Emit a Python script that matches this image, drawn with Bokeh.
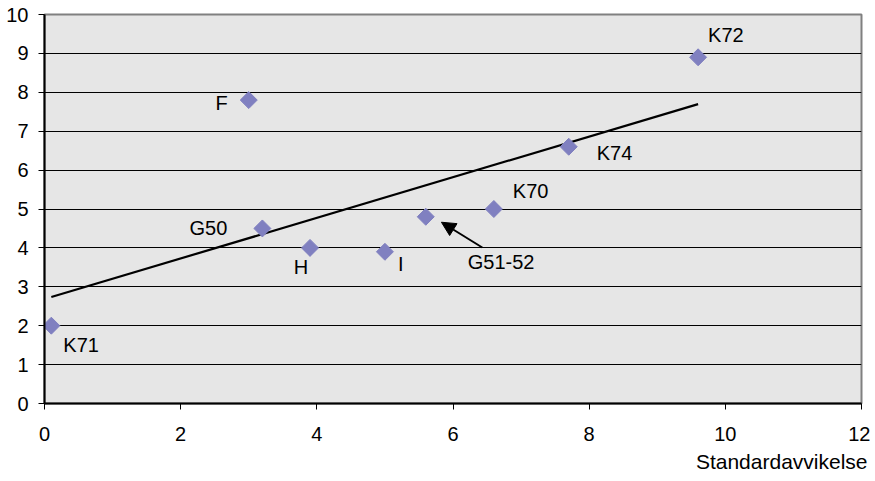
import numpy as np
from bokeh.plotting import figure
from bokeh.models import Range1d, FixedTicker, ColumnDataSource, Arrow, NormalHead, Title
from bokeh.core.properties import value
from bokeh.embed import file_html
from bokeh.resources import INLINE

# ---- data ----
names = ["K71", "F", "G50", "H", "I", "G51-52", "K70", "K74", "K72"]
std_dev = [0.1, 3.0, 3.2, 3.9, 5.0, 5.6, 6.6, 7.7, 9.6]
values_y = [2.0, 7.8, 4.5, 4.0, 3.9, 4.8, 5.0, 6.6, 8.9]
x_ticks = [0, 2, 4, 6, 8, 10, 12]
y_ticks = [0, 1, 2, 3, 4, 5, 6, 7, 8, 9, 10]
arrow_start = (6.43, 4.01)
arrow_end = (5.83, 4.66)
x_title = "Standardavvikelse"

# label placement (screen px offsets from each point; style only)
lbl_dx = [12, -21, -35, -9, 13, 42, 19, 28, 10]
lbl_dy = [19, 3, 0, 19, 12, 45, -18, 6, -22]
lbl_align = ["left", "right", "right", "center", "left", "left", "left", "left", "left"]

FONT = "Liberation Sans"
FS = "20px"

p = figure(width=870, height=478, output_backend="svg", toolbar_location=None,
           x_range=Range1d(0, 12), y_range=Range1d(0, 10),
           min_border_left=44, min_border_top=14, min_border_right=9, min_border_bottom=75)

p.background_fill_color = "#E6E6E6"
p.border_fill_color = "white"
p.outline_line_color = "#808080"
p.outline_line_width = 2

p.xgrid.visible = False
p.ygrid.ticker = FixedTicker(ticks=y_ticks[1:-1])
p.ygrid.grid_line_color = "black"
p.ygrid.grid_line_width = 1

for ax in (p.xaxis[0], p.yaxis[0]):
    ax.axis_line_color = "black"
    ax.axis_line_width = 2
    ax.major_tick_out = 6
    ax.major_tick_in = 0
    ax.major_tick_line_color = "black"
    ax.major_tick_line_width = 1
    ax.minor_tick_out = 0
    ax.minor_tick_in = 0
    ax.major_label_text_font = FONT
    ax.major_label_text_font_size = FS
    ax.major_label_text_color = "black"

p.xaxis.ticker = FixedTicker(ticks=x_ticks)
p.yaxis.ticker = FixedTicker(ticks=y_ticks)
p.xaxis.major_label_standoff = 17
p.yaxis.major_label_standoff = 10

# regression line
coef = np.polyfit(std_dev, values_y, 1)
lx = np.array([min(std_dev), max(std_dev)])
p.line(lx, np.polyval(coef, lx), line_color="black", line_width=2.2)

src = ColumnDataSource(dict(x=std_dev, y=values_y, name=names,
                            dx=lbl_dx, dy=lbl_dy, align=lbl_align))
p.scatter("x", "y", source=src, marker="square", size=12, angle=np.pi / 4,
          fill_color="#8080C0", line_color="#8080C0")

p.text("x", "y", text="name", source=src, x_offset="dx", y_offset="dy",
       text_align="align", text_baseline="middle", text_font=value(FONT),
       text_font_size=FS, text_color="black")

p.add_layout(Arrow(end=NormalHead(size=14, fill_color="black", line_color="black"),
                   x_start=arrow_start[0], y_start=arrow_start[1],
                   x_end=arrow_end[0], y_end=arrow_end[1],
                   line_color="black", line_width=2))

p.add_layout(Title(text=x_title, align="right", text_font=FONT, text_font_size="21px",
                   text_font_style="normal", text_color="black", offset=-6,
                   standoff=9), "below")

open("out.html", "w").write(file_html(p, INLINE))
